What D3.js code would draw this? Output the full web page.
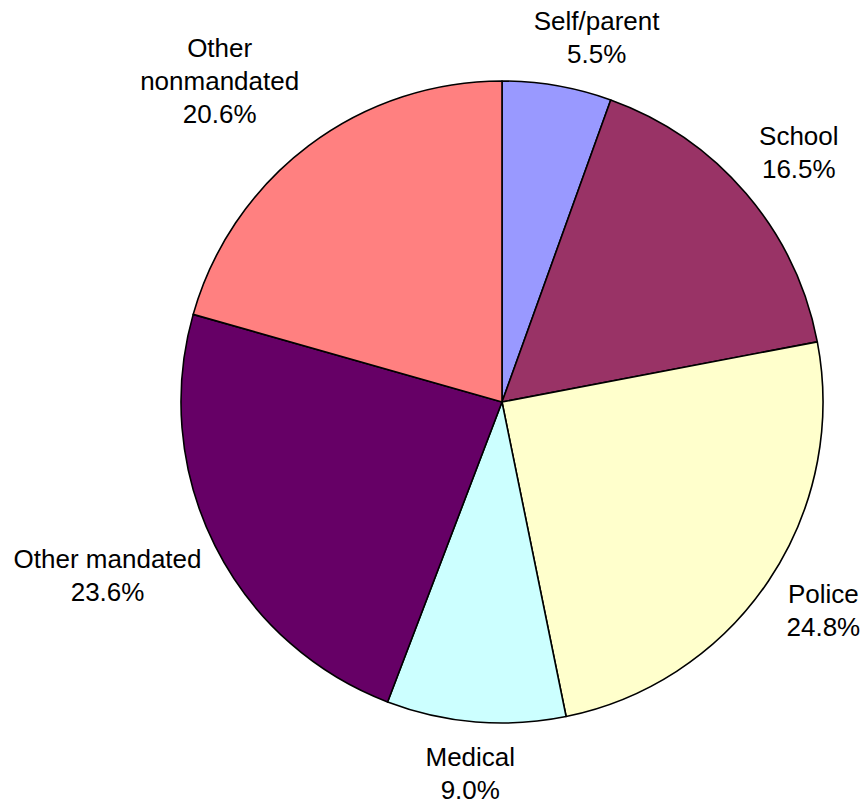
<!DOCTYPE html>
<html>
<head>
<meta charset="utf-8">
<script src="https://cdn.jsdelivr.net/npm/d3@7"></script>
<style>
  html, body { margin: 0; padding: 0; background: #fff; }
  svg { display: block; }
  text { font-family: "Liberation Sans", Arial, sans-serif; font-size: 26px; fill: #000; }
</style>
</head>
<body>
<svg id="chart" width="865" height="805"></svg>
<script>
// Referral sources, clockwise from 12 o'clock
const categories = ["Self/parent", "School", "Police", "Medical", "Other mandated", "Other nonmandated"];
const shares = [5.5, 16.5, 24.8, 9.0, 23.6, 20.6];
const labelLines = [
  ["Self/parent"],
  ["School"],
  ["Police"],
  ["Medical"],
  ["Other mandated"],
  ["Other", "nonmandated"]
];
const colors = ["#9999FF", "#993366", "#FFFFCC", "#CCFFFF", "#660066", "#FF8080"];

const width = 865, height = 805;
const cx = 502, cy = 402, radius = 321;
const labelGap = 23;     // distance from rim to the nearest corner of a label box
const lineHeight = 33;

// small hand nudges so crowded labels sit clear of their neighbours
const nudges = {
  "Self/parent": [25, 5],
  "School": [5, -6],
  "Police": [5, -1],
  "Medical": [0, -3],
  "Other mandated": [-3, 5],
  "Other nonmandated": [-27, -8]
};

const data = categories.map((c, i) => ({ name: c, value: shares[i], lines: labelLines[i], color: colors[i] }));

const svg = d3.select("#chart");
const g = svg.append("g").attr("transform", `translate(${cx},${cy})`);

const pie = d3.pie().value(d => d.value).sort(null);
const arc = d3.arc().innerRadius(0).outerRadius(radius);
const arcs = pie(data);

g.selectAll("path.slice")
  .data(arcs)
  .join("path")
  .attr("class", "slice")
  .attr("d", arc)
  .attr("fill", d => d.data.color)
  .attr("stroke", "#000")
  .attr("stroke-width", 1.6)
  .attr("stroke-linejoin", "round");

const fmt = d3.format(".1f");

arcs.forEach(a => {
  const lab = g.append("text").attr("text-anchor", "middle");
  const lines = a.data.lines.concat([fmt(a.data.value) + "%"]);
  lines.forEach((t, k) => {
    lab.append("tspan").attr("x", 0).attr("y", k * lineHeight).text(t);
  });
  const bb = lab.node().getBBox();
  const mid = (a.startAngle + a.endAngle) / 2;
  const s = Math.sin(mid), c = -Math.cos(mid);
  const R = radius + labelGap;
  // anchor point on the label ring, then push the box outward by half its size
  const px = R * s + s * bb.width / 2;
  const py = R * c + c * bb.height / 2;
  const nd = nudges[a.data.name] || [0, 0];
  const bx = bb.x + bb.width / 2, by = bb.y + bb.height / 2;
  lab.attr("transform", `translate(${px - bx + nd[0]},${py - by + nd[1]})`);
});
</script>
</body>
</html>
